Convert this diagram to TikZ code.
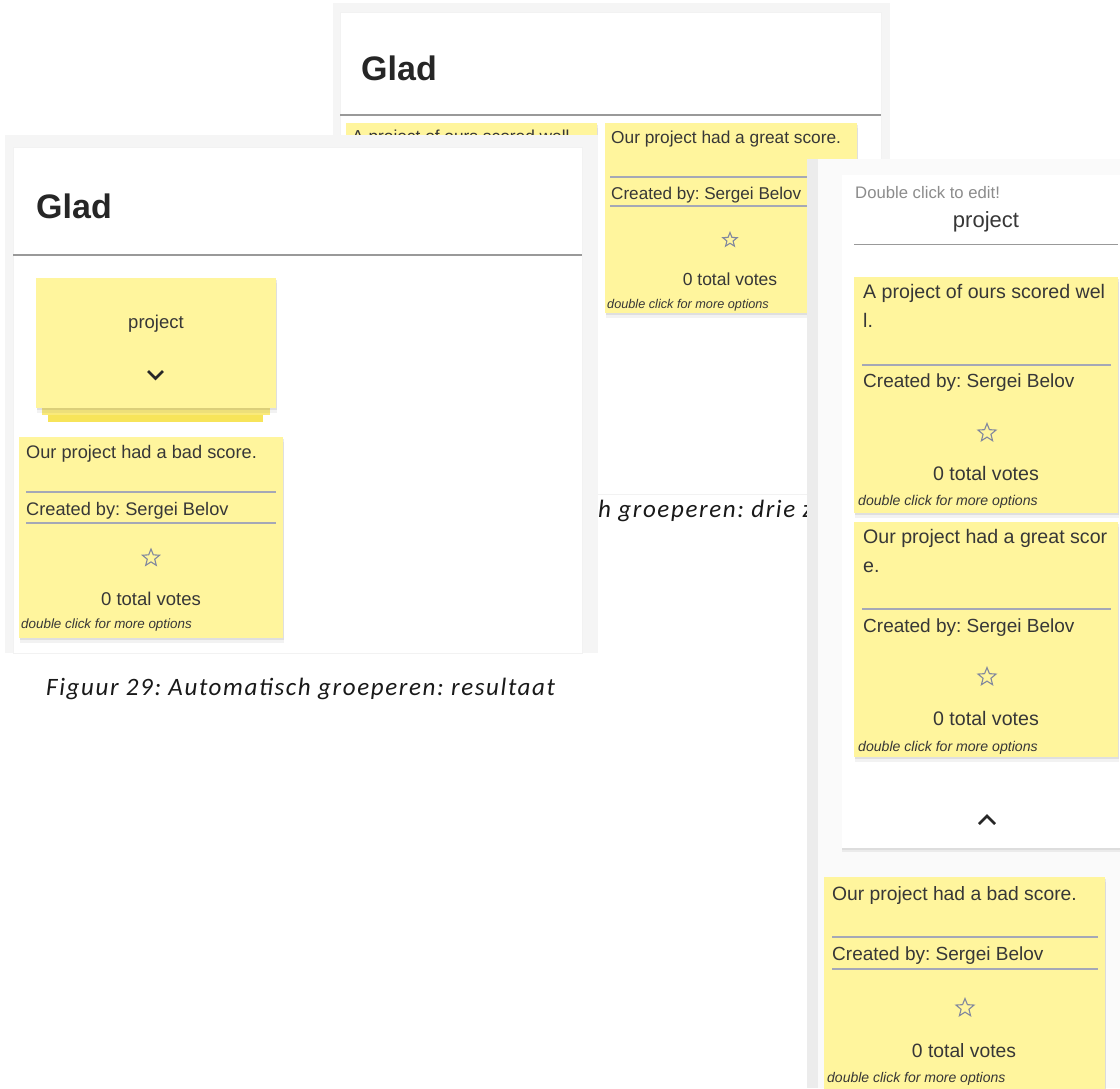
\documentclass[tikz,border=0pt]{standalone}
\usepackage{fontspec}
\setmainfont{Liberation Sans}
\newfontfamily\capfont[LetterSpace=6.5]{Carlito}
\usetikzlibrary{shapes.geometric, shadows}
\definecolor{notefill}{RGB}{255,245,157}
\definecolor{ink}{RGB}{55,55,55}
\definecolor{rulegray}{RGB}{165,168,182}
\definecolor{stargray}{RGB}{130,136,158}
\definecolor{framegray}{RGB}{245,245,245}
\definecolor{bggray}{RGB}{250,250,250}
\definecolor{stripa}{RGB}{250,234,122}
\definecolor{stripb}{RGB}{247,228,90}
\definecolor{hintgray}{RGB}{140,140,140}
\frenchspacing
\tikzset{
	x=1pt, y=-1pt, % one unit is one pixel of the screenshots, y runs down
	shotframe/.style={fill=framegray, anchor=north west, inner sep=0pt}, % grey border of a screenshot
	shotpanel/.style={fill=white, draw=black!5, anchor=north west, inner sep=0pt},
	shotcard/.style={fill=white, anchor=north west, inner sep=0pt, drop shadow={opacity=.12, shadow xshift=0pt, shadow yshift=-4pt}, drop shadow={opacity=.12, shadow xshift=0pt, shadow yshift=-2pt}},
	sticky/.style={fill=notefill, anchor=north west, inner sep=0pt, drop shadow={opacity=.1, shadow xshift=1pt, shadow yshift=-4.5pt}, drop shadow={opacity=.16, shadow xshift=.5pt, shadow yshift=-2pt}}, % a yellow note
	notetxt/.style={font=\fontsize{#1}{#1}\selectfont, text=ink, inner sep=0pt, anchor=base west},
	votetxt/.style={font=\fontsize{#1}{#1}\selectfont, text=ink, inner sep=0pt, anchor=base},
	hinttxt/.style={font=\itshape\fontsize{#1}{#1}\selectfont, text=ink, inner sep=0pt, anchor=base west},
	votestar/.style={star, star points=5, star point ratio=2.3, minimum size=#1, inner sep=0pt, draw=stargray, line width=1.1pt},
	boardtitle/.style={font=\bfseries\fontsize{34}{34}\selectfont, text=black!85, inner sep=0pt, anchor=base west},
	captxt/.style={font=\capfont\itshape\fontsize{25}{25}\selectfont, text=black!90, inner sep=0pt, anchor=base west},
	sepline/.style={draw=rulegray, line width=1.2pt},
	headline/.style={draw=gray!80, line width=1.5pt},
	chevron/.style={draw=ink!70!black, line width=2.6pt},
}
\begin{document}
\begin{tikzpicture}
\useasboundingbox[fill=white] (0,0) rectangle (1120,1088);

% caption of the next figure, behind the screenshots
\node[captxt] (cap30) at (598,517) {h groeperen: drie z};

% screenshot 1: board with two notes
\node[shotframe, minimum width=557pt, minimum height=491pt] (aframe) at (333,3) {};
\node[shotpanel, minimum width=541pt, minimum height=482pt] (apanel) at (340,12) {};
\draw[headline] (340,115) -- (881,115);
\node[boardtitle] (aglad) at (361,80) {Glad};
\node[sticky, minimum width=251pt, minimum height=192pt] (a1) at (346,123) {};
\node[notetxt=17.3] (a1txt) at (352,142) {A project of ours scored well.};
\node[sticky, minimum width=252pt, minimum height=190pt] (a2) at (605,123) {};
\node[notetxt=17.3] (a2txt) at (611,143) {Our project had a great score.};
\draw[sepline] (610,177) -- (852,177);
\node[notetxt=17.1] (a2by) at (611,199) {Created by: Sergei Belov};
\draw[sepline] (610,206) -- (852,206);
\node[votestar=15pt] (a2star) at (730,240) {};
\node[votetxt=17.5] (a2votes) at (730,285) {0 total votes};
\node[hinttxt=12.7] (a2hint) at (607,308) {double click for more options};

% screenshot 2: the notes grouped automatically
\node[shotframe, minimum width=593pt, minimum height=518pt] (bframe) at (5,135) {};
\node[shotpanel, minimum width=569pt, minimum height=506pt] (bpanel) at (13,147) {};
\draw[headline] (13,255) -- (582,255);
\node[boardtitle] (bglad) at (36,218) {Glad};
\fill[stripb] (48,414) rectangle (263,422);
\fill[stripa] (42,407) rectangle (270,415);
\node[sticky, minimum width=240pt, minimum height=130pt] (bgroup) at (36,278) {};
\node[votetxt=18.5] (bname) at (156,328) {project};
\draw[chevron] (148,371) -- (155.5,378.5) -- (163,371);
\node[sticky, minimum width=264pt, minimum height=201pt] (b1) at (19,437) {};
\node[notetxt=18.2] (b1txt) at (26,458) {Our project had a bad score.};
\draw[sepline] (26,492) -- (276,492);
\node[notetxt=18.2] (b1by) at (26,515) {Created by: Sergei Belov};
\draw[sepline] (26,523) -- (276,523);
\node[votestar=18pt] (b1star) at (151,558) {};
\node[votetxt=18.5] (b1votes) at (151,605) {0 total votes};
\node[hinttxt=13.4] (b1hint) at (21,628) {double click for more options};

\node[captxt] (cap29) at (46,695) {Figuur 29: Automatisch groeperen: resultaat};

% screenshot 3: the group opened
\node[shotframe, fill=framegray!85!black!40!white, minimum width=313pt, minimum height=929pt] (cframe) at (807,159) {};
\node[shotframe, fill=bggray, minimum width=302pt, minimum height=929pt] (cback) at (818,159) {};
\node[shotcard, minimum width=278pt, minimum height=673pt] (cpanel) at (842,175) {};
\node[notetxt=16.7, text=hintgray] (cedit) at (855,198) {Double click to edit!};
\node[votetxt=22] (cname) at (986,227) {project};
\draw[headline, line width=1pt] (854,244) -- (1118,244);

\node[sticky, minimum width=264pt, minimum height=236pt] (c1) at (854,277) {};
\node[notetxt=19.6] (c1txt) at (863,298) {A project of ours scored wel};
\node[notetxt=19.6] (c1txtb) at (863,327) {l.};
\draw[sepline] (862,365) -- (1111,365);
\node[notetxt=19] (c1by) at (863,387) {Created by: Sergei Belov};
\node[votestar=19pt] (c1star) at (987,433) {};
\node[votetxt=19.6] (c1votes) at (986,480) {0 total votes};
\node[hinttxt=14.1] (c1hint) at (858,505) {double click for more options};

\node[sticky, minimum width=264pt, minimum height=235pt] (c2) at (854,522) {};
\node[notetxt=19.6] (c2txt) at (863,543) {Our project had a great scor};
\node[notetxt=19.6] (c2txtb) at (863,572) {e.};
\draw[sepline] (862,609) -- (1111,609);
\node[notetxt=19] (c2by) at (863,632) {Created by: Sergei Belov};
\node[votestar=19pt] (c2star) at (987,677) {};
\node[votetxt=19.6] (c2votes) at (986,725) {0 total votes};
\node[hinttxt=14.1] (c2hint) at (858,751) {double click for more options};
\draw[chevron] (979,824) -- (987,816) -- (995,824);

\node[sticky, minimum width=281pt, minimum height=230pt] (c3) at (824,877) {};
\node[notetxt=19.3] (c3txt) at (832,900) {Our project had a bad score.};
\draw[sepline] (832,937) -- (1098,937);
\node[notetxt=19] (c3by) at (832,960) {Created by: Sergei Belov};
\draw[sepline] (832,969) -- (1098,969);
\node[votestar=19pt] (c3star) at (965,1008) {};
\node[votetxt=19.3] (c3votes) at (964,1057) {0 total votes};
\node[hinttxt=14] (c3hint) at (827,1082) {double click for more options};
\end{tikzpicture}
\end{document}
